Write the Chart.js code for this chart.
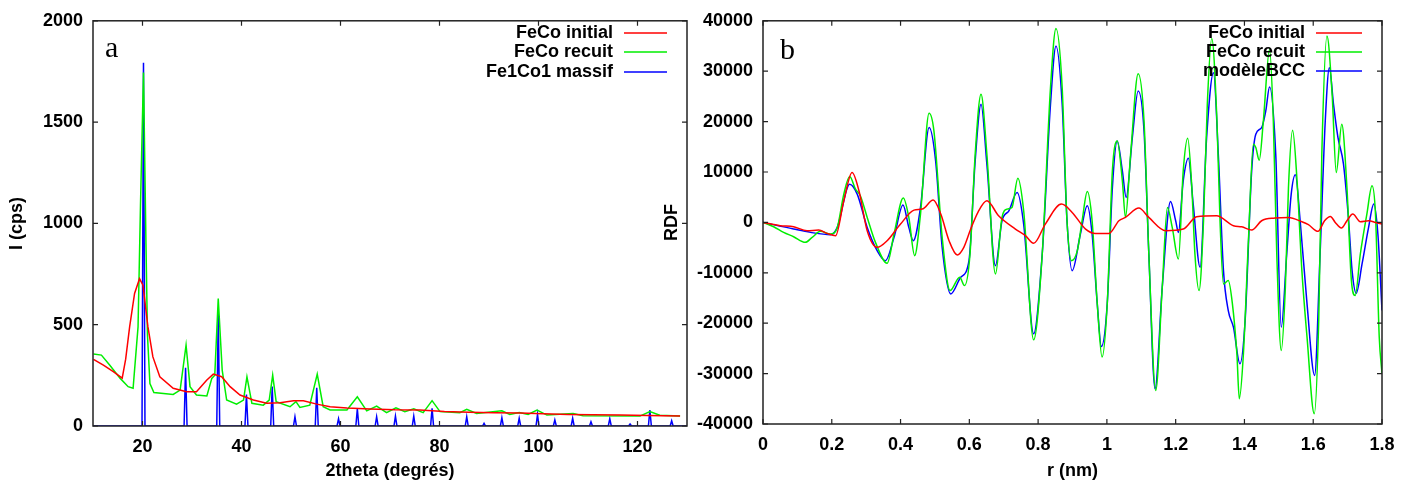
<!DOCTYPE html>
<html>
<head>
<meta charset="utf-8">
<script src="https://cdn.jsdelivr.net/npm/chart.js@4.4.1/dist/chart.umd.min.js"></script>
<style>
    html, body { margin: 0; padding: 0; background: #fff; }
    #wrap { position: relative; width: 1412px; height: 484px; }
    #xrd { position: absolute; left: 0; top: 0; }
    #rdf { position: absolute; left: 655px; top: 0; }
</style>
</head>
<body>
<div id="wrap">
    <canvas id="xrd" width="700" height="484"></canvas>
    <canvas id="rdf" width="757" height="484"></canvas>
</div>
<script>
// --- panel a : diffraction (2theta, cps) ---
const xrdXTicks = [20, 40, 60, 80, 100, 120];
const xrdYTicks = [0, 500, 1000, 1500, 2000];
const xrdLabels = ['FeCo initial', 'FeCo recuit', 'Fe1Co1 massif'];

const xrdInitial = [
    [10.1, 329], [12.1, 300], [14.1, 268], [15.9, 236], [16.6, 330], [17.4, 489], [18.4, 654], [19.4, 727],
    [20.1, 695], [21.1, 489], [22.1, 341], [23.5, 243], [26.2, 186], [28.9, 169], [30.9, 169], [33.0, 227],
    [34.3, 256], [36.0, 243], [37.7, 194], [39.7, 153], [42.4, 128], [45.1, 112], [47.8, 115], [50.5, 125],
    [52.5, 125], [55.2, 108], [57.9, 95], [61.3, 89], [66, 84], [71, 80], [76, 79], [81, 72], [86, 68],
    [91, 66], [96.3, 64], [101, 60], [106, 57], [111, 55], [116.5, 54], [122, 52], [128.6, 49]
];

const xrdRecuit = [
    [10.1, 355], [11.7, 350], [13.4, 300], [15.5, 235], [17.1, 194], [18.1, 186], [19.1, 489], [19.6, 1100],
    [20.2, 1745], [20.7, 900], [21.0, 450], [21.5, 210], [22.3, 165], [26.2, 156], [27.6, 177], [28.8, 399],
    [29.6, 194], [30.9, 153], [33.0, 148], [34.0, 235], [34.6, 251], [35.3, 629], [36.1, 276], [37.0, 128],
    [39.0, 108], [40.4, 128], [41.1, 243], [42.1, 112], [44.4, 103], [45.6, 128], [46.3, 251], [47.0, 120],
    [49.8, 95], [51.0, 120], [51.8, 92], [53.8, 103], [55.3, 256], [56.5, 95], [57.9, 79], [61.3, 79],
    [63.4, 144], [65.3, 75], [67.3, 98], [69.3, 66], [71.2, 90], [73, 71], [74.8, 85], [76.7, 66], [78.5, 125],
    [80.1, 71], [84.1, 66], [85.5, 82], [87.5, 62], [92.6, 75], [94.2, 57], [96.1, 67], [97.9, 57],
    [99.7, 79], [101.7, 54], [107, 62], [109, 51], [120.5, 49], [122.5, 71], [124.5, 53], [128.6, 49]
];

const massifPos = [20.2, 28.7, 35.3, 41.0, 46.2, 50.8, 55.2, 59.6, 63.4, 67.3, 71.1, 74.8, 78.5,
    85.5, 89.0, 92.6, 96.1, 99.8, 103.3, 106.9, 110.6, 114.4, 118.5, 122.5, 126.9];
const massifI = [1793, 287, 557, 155, 195, 46, 189, 36, 85, 46, 49, 49, 87,
    46, 13, 41, 38, 57, 30, 38, 21, 36, 10, 79, 26];

// --- panel b : RDF ---
const rdfXTicks = [0, 0.2, 0.4, 0.6, 0.8, 1, 1.2, 1.4, 1.6, 1.8];
const rdfYTicks = [-40000, -30000, -20000, -10000, 0, 10000, 20000, 30000, 40000];
const rdfLabels = ['FeCo initial', 'FeCo recuit', 'modèleBCC'];

const rdfInitial = [
    [0, 0], [0.05, -660], [0.089, -860], [0.128, -1650], [0.162, -1520], [0.186, -2180], [0.211, -2640],
    [0.235, 4290], [0.259, 9900], [0.279, 6270], [0.303, -1650], [0.332, -4950], [0.361, -3630], [0.4, -330],
    [0.439, 2440], [0.463, 2640], [0.495, 4420], [0.517, 1650], [0.541, -3630], [0.565, -6470], [0.584, -4950],
    [0.604, -1320], [0.625, 2000], [0.651, 4290], [0.685, 1320], [0.734, -1320], [0.763, -2640], [0.787, -4160],
    [0.821, -330], [0.868, 3630], [0.899, 1980], [0.938, -1320], [0.967, -2180], [1.006, -2180], [1.035, 330],
    [1.054, 990], [1.093, 2840], [1.122, 990], [1.171, -1650], [1.222, -1320], [1.261, 1120], [1.319, 1320],
    [1.368, -660], [1.392, -860], [1.421, -1520], [1.45, 330], [1.489, 860], [1.528, 990], [1.567, 130],
    [1.586, -460], [1.614, -1780], [1.633, 330], [1.65, 1190], [1.664, 0], [1.682, -1120], [1.698, 330],
    [1.715, 1650], [1.737, 130], [1.761, 330], [1.781, 0], [1.8, -330]
];

const rdfRecuit = [
    [0, 0], [0.031, -860], [0.06, -1980], [0.089, -2840], [0.123, -3960], [0.143, -2970], [0.167, -1780],
    [0.196, -2310], [0.216, -990], [0.235, 5610], [0.252, 9110], [0.269, 6600], [0.283, 5280], [0.303, 990],
    [0.327, -3960], [0.361, -8100], [0.381, -2310], [0.408, 4820], [0.424, 990], [0.441, -6600], [0.458, 1650],
    [0.483, 21650], [0.497, 18150], [0.521, -2970], [0.544, -13530], [0.572, -10890], [0.586, -12540],
    [0.602, -6270], [0.617, 13530], [0.634, 25410], [0.651, 13530], [0.676, -10230], [0.695, 990], [0.71, 2640],
    [0.724, 2970], [0.741, 8780], [0.758, 2310], [0.787, -23300], [0.812, -6270], [0.836, 26730], [0.852, 38480],
    [0.87, 26730], [0.884, 330], [0.897, -7590], [0.914, -5610], [0.928, 330], [0.943, 6140], [0.957, 330],
    [0.972, -16170], [0.986, -26730], [1.001, -16170], [1.016, 10230], [1.03, 16170], [1.045, 8250], [1.054, 990],
    [1.069, 13530], [1.091, 29500], [1.108, 20130], [1.122, -6270], [1.142, -33330], [1.161, -12870],
    [1.176, 2970], [1.19, -990], [1.208, -7260], [1.222, 10230], [1.235, 16700], [1.247, 6930], [1.256, -6270],
    [1.268, -13530], [1.281, 330], [1.292, 23430], [1.305, 36500], [1.32, 20130], [1.329, 330], [1.339, -12210],
    [1.353, -11550], [1.365, -16170], [1.378, -26070], [1.385, -34980], [1.397, -26070], [1.412, -2970],
    [1.426, 15510], [1.433, 14850], [1.443, 12340], [1.455, 20130], [1.473, 34320], [1.484, 20130],
    [1.494, -6270], [1.507, -25410], [1.519, -12870], [1.528, 6930], [1.54, 18280], [1.553, 8250],
    [1.567, -9570], [1.582, -22770], [1.603, -37950], [1.616, -19470], [1.625, 13530], [1.64, 36960],
    [1.655, 25410], [1.667, 9900], [1.683, 19470], [1.698, 6930], [1.711, -11550], [1.722, -14520],
    [1.737, -6270], [1.756, 1650], [1.771, 7260], [1.781, 1650], [1.792, -22770], [1.8, -30030]
];

const rdfModel = [
    [0, 0], [0.089, -1320], [0.138, -1980], [0.196, -2440], [0.216, -990], [0.252, 7590], [0.274, 5610],
    [0.303, -990], [0.332, -5610], [0.356, -7590], [0.381, -2970], [0.407, 3430], [0.424, -990], [0.437, -3630],
    [0.458, 2970], [0.483, 18810], [0.502, 12210], [0.521, -4950], [0.546, -14190], [0.575, -10890],
    [0.599, -7590], [0.617, 12210], [0.634, 23430], [0.651, 11550], [0.676, -8580], [0.695, 330], [0.715, 2310],
    [0.739, 5940], [0.758, -330], [0.787, -22110], [0.812, -6270], [0.836, 23430], [0.852, 34980], [0.87, 23430],
    [0.884, 330], [0.899, -9570], [0.923, -2310], [0.943, 3300], [0.957, -2310], [0.972, -16170], [0.984, -24620],
    [1.001, -16170], [1.016, 6930], [1.03, 16170], [1.045, 10230], [1.056, 4950], [1.074, 16830], [1.091, 26070],
    [1.108, 18150], [1.122, -6270], [1.14, -33000], [1.161, -12870], [1.185, 4160], [1.2, 330], [1.208, -1980],
    [1.222, 8250], [1.237, 12740], [1.251, 3630], [1.271, -8910], [1.29, 16830], [1.31, 29700], [1.324, 13530],
    [1.339, -9570], [1.353, -17490], [1.368, -20790], [1.387, -28050], [1.402, -19470], [1.421, 10230],
    [1.433, 17490], [1.45, 18810], [1.462, 22110], [1.473, 26860], [1.491, 13530], [1.507, -20790],
    [1.523, -6270], [1.536, 5610], [1.548, 9440], [1.562, 330], [1.582, -16170], [1.604, -30360], [1.62, -6270],
    [1.635, 20130], [1.647, 30690], [1.659, 23430], [1.672, 16830], [1.688, 11550], [1.703, 330], [1.713, -9570],
    [1.725, -14060], [1.742, -8250], [1.761, -990], [1.776, 3630], [1.788, -2310], [1.8, -17490]
];

const RED = '#ff0000', GREEN = '#00ee00', BLUE = '#0000ff';
const FONT_FAMILY = '"Liberation Sans", Arial, sans-serif';

const toXY = arr => arr.map(p => ({ x: p[0], y: p[1] }));

// blue stick pattern: narrow spike at each reflection, zero baseline between
function sticks(pos, heights, lo, hi) {
    const pts = [{ x: lo, y: 0 }];
    pos.forEach((p, i) => {
        pts.push({ x: p - 0.3, y: 0 }, { x: p, y: heights[i] }, { x: p + 0.3, y: 0 });
    });
    pts.push({ x: hi, y: 0 });
    return pts;
}

// frame with inward ticks, legend and panel letter (gnuplot look)
const gnuplotDecor = {
    id: 'gnuplotDecor',
    afterDatasetsDraw(chart, args, opts) {
        const { ctx, chartArea: a, scales } = chart;
        ctx.save();
        ctx.strokeStyle = '#222';
        ctx.lineWidth = 1.5;
        ctx.strokeRect(a.left, a.top, a.right - a.left, a.bottom - a.top);
        ctx.lineWidth = 1.2;
        ctx.beginPath();
        scales.x.ticks.forEach(t => {
            const px = scales.x.getPixelForValue(t.value);
            ctx.moveTo(px, a.bottom); ctx.lineTo(px, a.bottom - 5);
            ctx.moveTo(px, a.top); ctx.lineTo(px, a.top + 5);
        });
        scales.y.ticks.forEach(t => {
            const py = scales.y.getPixelForValue(t.value);
            ctx.moveTo(a.left, py); ctx.lineTo(a.left + 5, py);
            ctx.moveTo(a.right, py); ctx.lineTo(a.right - 5, py);
        });
        ctx.stroke();

        // legend
        ctx.font = 'bold 18px ' + FONT_FAMILY;
        ctx.textAlign = 'right';
        ctx.textBaseline = 'middle';
        chart.data.datasets.forEach((ds, i) => {
            const y = opts.legendY[i];
            ctx.fillStyle = '#000';
            ctx.fillText(ds.label, opts.textRight, y);
            ctx.strokeStyle = ds.borderColor;
            ctx.lineWidth = 1.5;
            ctx.beginPath();
            ctx.moveTo(opts.lineX[0], y);
            ctx.lineTo(opts.lineX[1], y);
            ctx.stroke();
        });

        // panel letter
        ctx.font = '30px "Liberation Serif", "Times New Roman", serif';
        ctx.textAlign = 'left';
        ctx.textBaseline = 'alphabetic';
        ctx.fillStyle = '#000';
        ctx.fillText(opts.letter, opts.letterX, opts.letterY);
        ctx.restore();
    }
};

function makeOptions(cfg) {
    const tickFont = { family: FONT_FAMILY, size: 18, weight: 'bold' };
    return {
        responsive: false,
        animation: false,
        layout: { padding: { left: 0, right: cfg.padRight, top: 20, bottom: 0 } },
        plugins: {
            legend: { display: false },
            tooltip: { enabled: false },
            gnuplotDecor: cfg.decor
        },
        elements: { point: { radius: 0 } },
        scales: {
            x: {
                type: 'linear',
                min: cfg.xMin, max: cfg.xMax,
                grid: { display: false, drawTicks: false },
                border: { display: false },
                afterBuildTicks: s => { s.ticks = cfg.xTicks.map(v => ({ value: v })); },
                afterFit: s => { s.height = cfg.xHeight; },
                ticks: { color: '#000', font: tickFont, padding: 10, autoSkip: false, maxRotation: 0,
                         callback: v => String(v) },
                title: { display: true, text: cfg.xTitle, color: '#000', font: tickFont,
                         padding: { top: 0, bottom: 2 } }
            },
            y: {
                type: 'linear',
                min: cfg.yMin, max: cfg.yMax,
                grid: { display: false, drawTicks: false },
                border: { display: false },
                afterBuildTicks: s => { s.ticks = cfg.yTicks.map(v => ({ value: v })); },
                afterFit: s => { s.width = cfg.yWidth; },
                ticks: { color: '#000', font: tickFont, padding: 10, autoSkip: false,
                         callback: v => String(v) },
                title: { display: true, text: cfg.yTitle, color: '#000', font: tickFont,
                         padding: { top: 6, bottom: 0 } }
            }
        }
    };
}

const lineDs = (label, color, data, smooth) => ({
    label: label,
    data: data,
    borderColor: color,
    borderWidth: 1.5,
    pointRadius: 0,
    fill: false,
    tension: 0,
    cubicInterpolationMode: smooth ? 'monotone' : 'default'
});

new Chart(document.getElementById('xrd'), {
    type: 'line',
    data: {
        datasets: [
            lineDs(xrdLabels[0], RED, toXY(xrdInitial), false),
            lineDs(xrdLabels[1], GREEN, toXY(xrdRecuit), false),
            lineDs(xrdLabels[2], BLUE, sticks(massifPos, massifI, 10, 130), false)
        ]
    },
    options: makeOptions({
        xMin: 10, xMax: 130, yMin: 0, yMax: 2000,
        xTicks: xrdXTicks, yTicks: xrdYTicks,
        xTitle: '2theta (degrés)', yTitle: 'I (cps)',
        yWidth: 93, xHeight: 58, padRight: 13,
        decor: { legendY: [33, 52, 72], textRight: 613, lineX: [624, 667],
                 letter: 'a', letterX: 105, letterY: 57 }
    }),
    plugins: [gnuplotDecor]
});

new Chart(document.getElementById('rdf'), {
    type: 'line',
    data: {
        datasets: [
            lineDs(rdfLabels[0], RED, toXY(rdfInitial), true),
            lineDs(rdfLabels[1], GREEN, toXY(rdfRecuit), true),
            lineDs(rdfLabels[2], BLUE, toXY(rdfModel), true)
        ]
    },
    options: makeOptions({
        xMin: 0, xMax: 1.8, yMin: -40000, yMax: 40000,
        xTicks: rdfXTicks, yTicks: rdfYTicks,
        xTitle: 'r (nm)', yTitle: 'RDF',
        yWidth: 108, xHeight: 60, padRight: 30,
        decor: { legendY: [33, 52, 71], textRight: 650, lineX: [661, 707],
                 letter: 'b', letterX: 125, letterY: 59 }
    }),
    plugins: [gnuplotDecor]
});
</script>
</body>
</html>
